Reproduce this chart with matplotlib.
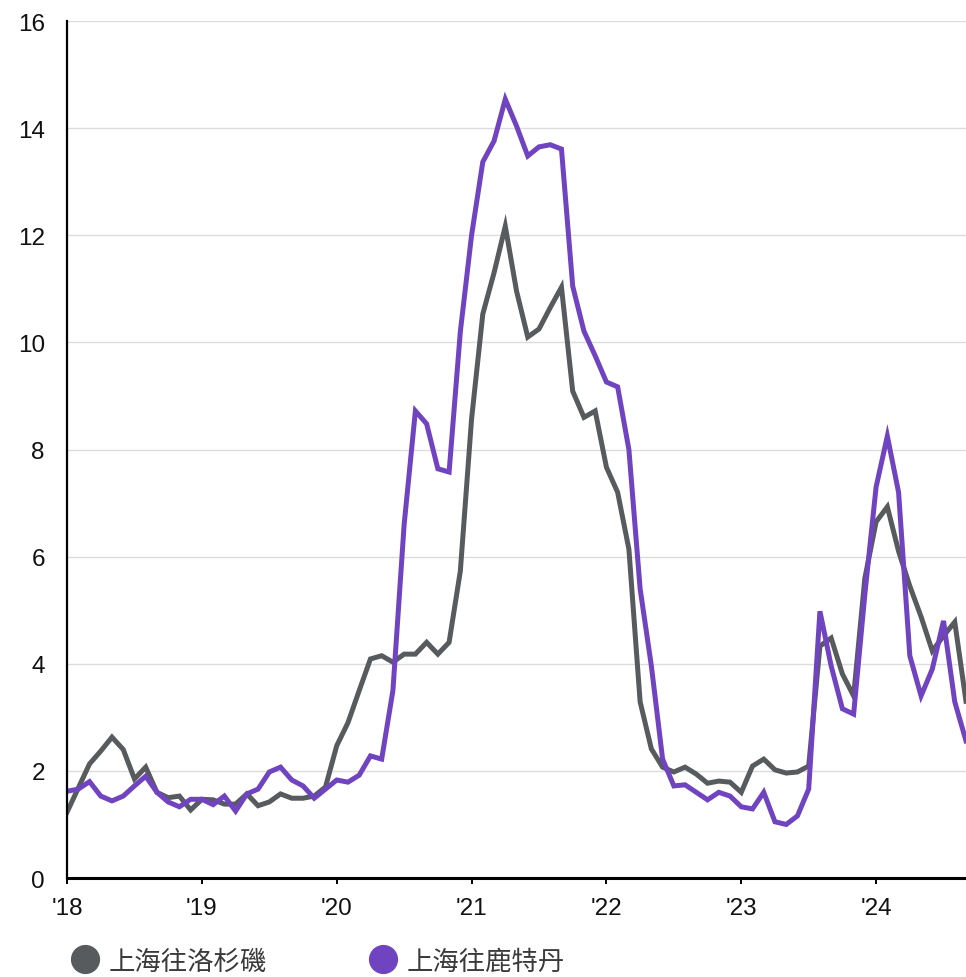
import matplotlib

matplotlib.use("Agg")

import matplotlib.pyplot as plt
from matplotlib.lines import Line2D

plt.rcParams["font.family"] = ["Liberation Sans", "Noto Sans CJK TC", "DejaVu Sans"]

# monthly rates, Jan 2018 .. Sep 2024 (USD thousands / FEU)
months = list(range(81))
la_rates = [
    1.23, 1.68, 2.13, 2.37, 2.63, 2.40, 1.85, 2.07, 1.60, 1.50, 1.53, 1.27,
    1.47, 1.46, 1.38, 1.38, 1.57, 1.35, 1.42, 1.57, 1.49, 1.49, 1.53, 1.70,
    2.47, 2.90, 3.50, 4.09, 4.15, 4.03, 4.18, 4.18, 4.40, 4.18, 4.40, 5.73,
    8.57, 10.53, 11.30, 12.17, 10.96, 10.10, 10.25, 10.65, 11.03, 9.09, 8.60, 8.72,
    7.67, 7.20, 6.14, 3.29, 2.41, 2.07, 1.98, 2.07, 1.94, 1.77, 1.81, 1.79,
    1.60, 2.09, 2.22, 2.02, 1.96, 1.98, 2.09, 4.33, 4.48, 3.81, 3.40, 5.60,
    6.65, 6.93, 6.10, 5.45, 4.88, 4.24, 4.52, 4.78, 3.30,
]
rotterdam_rates = [
    1.62, 1.66, 1.80, 1.53, 1.44, 1.53, 1.72, 1.90, 1.60, 1.42, 1.33, 1.47,
    1.47, 1.37, 1.53, 1.25, 1.57, 1.66, 1.98, 2.07, 1.83, 1.72, 1.49, 1.66,
    1.83, 1.79, 1.92, 2.28, 2.22, 3.50, 6.60, 8.72, 8.48, 7.64, 7.58, 10.20,
    12.00, 13.37, 13.76, 14.54, 14.04, 13.48, 13.65, 13.69, 13.61, 11.05, 10.21, 9.75,
    9.26, 9.17, 8.00, 5.40, 3.96, 2.22, 1.72, 1.74, 1.60, 1.46, 1.60, 1.53,
    1.33, 1.29, 1.60, 1.05, 1.00, 1.16, 1.66, 4.98, 3.96, 3.16, 3.06, 5.30,
    7.30, 8.25, 7.20, 4.15, 3.40, 3.90, 4.80, 3.29, 2.56,
]
year_ticks = [0, 12, 24, 36, 48, 60, 72]
year_labels = ["'18", "'19", "'20", "'21", "'22", "'23", "'24"]
series_names = ["上海往洛杉磯", "上海往鹿特丹"]

gray = "#575b5e"
purple = "#7044c0"

fig = plt.figure(figsize=(9.66, 9.78), dpi=100)
ax = fig.add_axes([0.0694, 0.1012, 0.9306, 0.8763])

ax.plot(months, la_rates, color=gray, linewidth=3.6, solid_joinstyle="miter")
ax.plot(months, rotterdam_rates, color=purple, linewidth=3.6, solid_joinstyle="miter")

ax.set_xlim(0, 80)
ax.set_ylim(0, 16)
ax.set_yticks(range(0, 17, 2))
ax.set_xticks(year_ticks)
ax.set_xticklabels(year_labels)

ax.grid(True, axis="y", color="#dcdcdc", linewidth=1)
ax.set_axisbelow(True)
ax.spines[["top", "right"]].set_visible(False)
ax.spines["left"].set_linewidth(1.6)
ax.spines["bottom"].set_linewidth(2.2)
ax.tick_params(axis="y", length=0, pad=16, labelsize=17.5, labelcolor="#111111")
ax.tick_params(axis="x", length=4.5, width=1.4, pad=9, labelsize=17.5, labelcolor="#111111")

handles = [
    Line2D([], [], linestyle="none", marker="o", markersize=20, color=gray),
    Line2D([], [], linestyle="none", marker="o", markersize=20, color=purple),
]
fig.legend(
    handles,
    series_names,
    loc="center left",
    bbox_to_anchor=(0.0745, 0.0164),
    ncol=2,
    frameon=False,
    borderpad=0,
    borderaxespad=0,
    handlelength=1.0,
    handletextpad=0.4,
    columnspacing=3.9,
    prop={"family": ["Noto Sans CJK TC"], "size": 19},
    labelcolor="#3a3a3a",
)

fig.savefig("out.png", dpi=100)
plt.close(fig)
